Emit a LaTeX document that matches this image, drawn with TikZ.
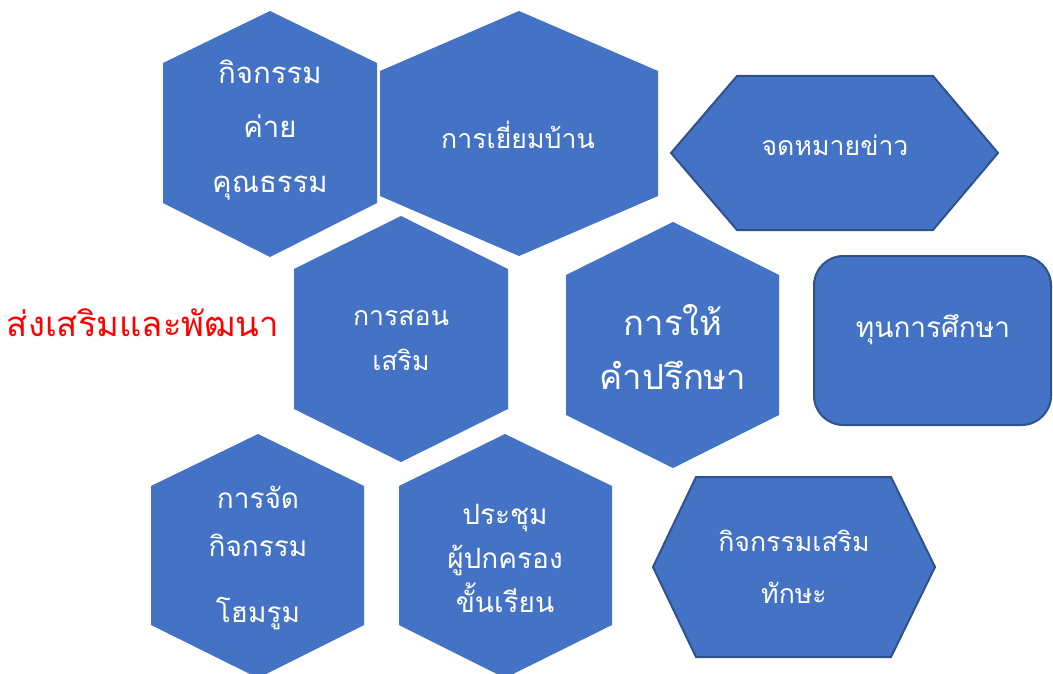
\documentclass[tikz,border=0pt]{standalone}
\usepackage{fontspec}
\newfontfamily\thaifont[Script=Thai]{Loma}
\usetikzlibrary{positioning}
\definecolor{hexblue}{HTML}{4472C4}
\definecolor{edgeblue}{HTML}{2F528F}

\begin{document}
\begin{tikzpicture}[x=0.75pt,y=-0.75pt]
  \tikzstyle{cell}=[fill=hexblue]
  \tikzstyle{edged}=[fill=hexblue,draw=edgeblue,line width=1.5pt]
  \tikzstyle{label}=[text=white,align=center,inner sep=0pt,font=\thaifont\fontsize{20}{30}\selectfont]

  \useasboundingbox (0,0) rectangle (1053,674);

  % pointed hexagons
  \fill[cell] (270,11) -- (377,63) -- (377,203) -- (270,257) -- (163,203) -- (163,63) -- cycle;
  \fill[cell] (519,11) -- (658,71) -- (658,196) -- (519,256) -- (380,196) -- (380,71) -- cycle;
  \fill[cell] (401,216) -- (508,269) -- (508,409) -- (401,462) -- (294,409) -- (294,269) -- cycle;
  \fill[cell] (673,222) -- (779,275) -- (779,415) -- (673,468) -- (566,415) -- (566,275) -- cycle;
  \fill[cell] (258,434) -- (364,486) -- (364,625) -- (258,678) -- (151,625) -- (151,486) -- cycle;
  \fill[cell] (505,434) -- (612,486) -- (612,625) -- (505,678) -- (399,625) -- (399,486) -- cycle;

  % flat hexagons and box
  \draw[edged] (737,76) -- (933,76) -- (998,153) -- (933,230) -- (737,230) -- (671,153) -- cycle;
  \draw[edged] (696,477) -- (891,477) -- (935,567) -- (891,657) -- (696,657) -- (653,567) -- cycle;
  \draw[edged,rounded corners=22pt] (814,256) rectangle (1051,425);

  \node[label,font=\thaifont\fontsize{22}{41}\selectfont] (camp) at (270,130) {กิจกรรม\\ค่าย\\คุณธรรม};
  \node[label] (visit) at (518,135) {การเยี่ยมบ้าน};
  \node[label] (news) at (835,145) {จดหมายข่าว};
  \node[label,font=\thaifont\fontsize{21}{30}\selectfont] (fund) at (933,330) {ทุนการศึกษา};
  \node[label,font=\thaifont\fontsize{20}{34}\selectfont] (tutor) at (401,340) {การสอน\\เสริม};
  \node[label,font=\thaifont\fontsize{26}{41}\selectfont] (advice) at (673,347) {การให้\\คำปรึกษา};
  \node[label,font=\thaifont\fontsize{21}{36}\selectfont] (homeroom) at (258,558) {การจัด\\กิจกรรม\\[13pt]โฮมรูม};
  \node[label,font=\thaifont\fontsize{21}{33}\selectfont] (parents) at (505,558) {ประชุม\\ผู้ปกครอง\\ขั้นเรียน};
  \node[label,font=\thaifont\fontsize{20}{39}\selectfont] (skill) at (794,567) {กิจกรรมเสริม\\ทักษะ};

  \node[text=red,inner sep=0pt,font=\thaifont\fontsize{26}{30}\selectfont] (title) at (143,323) {ส่งเสริมและพัฒนา};
\end{tikzpicture}
\end{document}
